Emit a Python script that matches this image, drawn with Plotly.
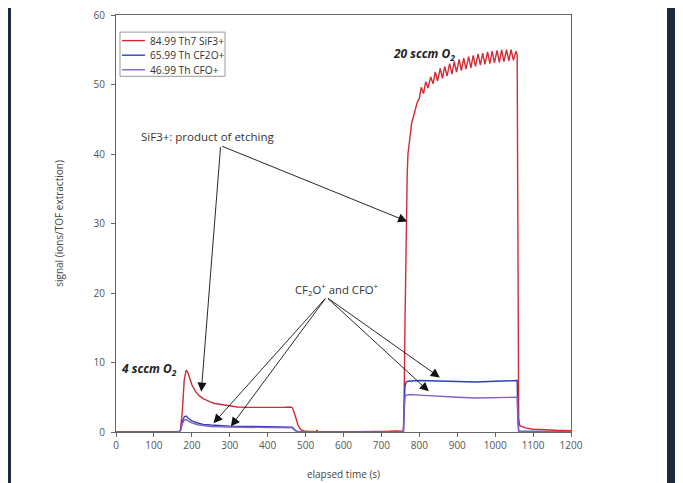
import plotly.graph_objects as go

# ---- data ----
t_sif3 = [0, 100, 165, 170, 175, 180, 185, 190, 195, 200, 210, 220, 230, 240, 250, 260, 280, 300, 320, 350, 400,
          440, 460, 465, 470, 475, 480, 485, 490, 500, 520, 528, 530, 532, 600, 700, 720, 740, 755, 758,
          760, 762, 764, 766, 768, 770, 775, 780, 785, 790, 795, 800,
          805, 811, 817, 823, 830, 836, 842, 848, 855, 861, 867, 873, 880, 886, 892, 898, 905, 911, 917, 923,
          930, 936, 942, 948, 955, 961, 967, 973, 980, 986, 992, 998, 1005, 1011, 1017, 1023, 1030, 1036,
          1042, 1048, 1055, 1058, 1060, 1062, 1065, 1070, 1080, 1100, 1130, 1160, 1200]
v_sif3 = [0, 0, 0, 0.3, 3, 7.5, 8.9, 8.5, 7.5, 6.8, 5.8, 5.2, 4.8, 4.5, 4.3, 4.1, 3.9, 3.7, 3.6, 3.55, 3.5,
          3.55, 3.6, 3.5, 2.8, 1.8, 1.0, 0.5, 0.25, 0.1, 0.05, 0.05, 0.3, 0.05, 0, 0, 0.1, 0.15, 0.1, 0.2,
          5, 15, 25, 32, 37, 40, 42.5, 44.5, 45.5, 46.5, 47.5, 48,
          49.6, 48.7, 50.4, 49.5, 51.1, 50.1, 51.8, 50.5, 52.3, 50.9, 52.6, 51.2, 53.0, 51.5, 53.3, 51.8, 53.6, 52.0, 53.8, 52.2,
          54.0, 52.4, 54.2, 52.6, 54.4, 52.8, 54.5, 52.9, 54.7, 53.0, 54.8, 53.1, 54.9, 53.2, 55.0, 53.3, 55.0, 53.4,
          55.0, 53.5, 54.8, 54.2, 20, 2, 0.9, 0.8, 0.6, 0.4, 0.3, 0.25, 0.2]

t_cf2o = [0, 165, 170, 175, 180, 185, 190, 200, 215, 230, 250, 280, 300, 350, 400, 460, 465, 470, 475, 480, 500,
          758, 760, 762, 765, 770, 800, 850, 900, 950, 1000, 1050, 1058, 1060, 1062, 1200]
v_cf2o = [0, 0, 0.2, 1.5, 2.2, 2.3, 2.0, 1.6, 1.3, 1.1, 1.0, 0.9, 0.85, 0.8, 0.75, 0.75, 0.7, 0.4, 0.15, 0.05, 0,
          0, 3, 6.5, 7.2, 7.3, 7.4, 7.3, 7.2, 7.2, 7.3, 7.4, 7.4, 2, 0.1, 0]

t_cfo = [0, 165, 170, 175, 180, 185, 190, 200, 215, 230, 250, 300, 400, 465, 470, 475, 480,
         758, 760, 762, 765, 775, 800, 850, 900, 950, 1000, 1050, 1058, 1060, 1062, 1200]
v_cfo = [0, 0, 0.2, 1.2, 1.7, 1.8, 1.6, 1.3, 1.05, 0.9, 0.8, 0.7, 0.6, 0.6, 0.3, 0.1, 0,
         0, 2.5, 5, 5.3, 5.4, 5.3, 5.1, 5.0, 4.9, 4.9, 5.0, 5.0, 1.5, 0.1, 0]

series_names = ["84.99 Th7 SiF3+", "65.99 Th CF2O+", "46.99 Th CFO+"]
series_colors = ["#d42a35", "#2f3fbf", "#8460c2"]

x_ticks = [0, 100, 200, 300, 400, 500, 600, 700, 800, 900, 1000, 1100, 1200]
y_ticks = [0, 10, 20, 30, 40, 50, 60]

fig = go.Figure()
for t, v, name, col in zip([t_sif3, t_cf2o, t_cfo], [v_sif3, v_cf2o, v_cfo], series_names, series_colors):
    fig.add_trace(go.Scatter(x=t, y=v, mode="lines", name=name,
                             line=dict(color=col, width=1.4), showlegend=False))

font_family = "Open Sans, Noto Sans, sans-serif"

annotations = [
    dict(x=242, y=42.5, xref="x", yref="y", text="SiF3+: product of etching", showarrow=False,
         font=dict(size=11.5, color="#333333")),
    dict(x=812, y=54.4, xref="x", yref="y", text="<b><i>20 sccm O<sub>2</sub></i></b>", showarrow=False,
         font=dict(size=12, color="#222222")),
    dict(x=86, y=9.1, xref="x", yref="y", text="<b><i>4 sccm O<sub>2</sub></i></b>", showarrow=False,
         font=dict(size=12, color="#222222")),
    dict(x=584, y=20.5, xref="x", yref="y", text="CF<sub>2</sub>O<sup>+</sup> and CFO<sup>+</sup>",
         showarrow=False, font=dict(size=11.3, color="#333333")),
]
arrows = [
    (276, 41.2, 225, 5.8),
    (276, 41.2, 768, 30.3),
    (555, 19.4, 257, 1.25),
    (555, 19.4, 303, 0.8),
    (555, 19.4, 854, 7.85),
    (555, 19.4, 825, 5.85),
]
for ax_, ay_, x_, y_ in arrows:
    annotations.append(dict(x=x_, y=y_, ax=ax_, ay=ay_, xref="x", yref="y", axref="x", ayref="y",
                            text="", showarrow=True, arrowhead=2, arrowsize=2.0, arrowwidth=0.9,
                            arrowcolor="#111111"))

# compact legend box (paper coordinates)
shapes = [dict(type="rect", xref="paper", yref="paper", x0=-0.2308, x1=1.211, y0=-0.2, y1=1.046,
               fillcolor="white", line=dict(width=0), layer="below"),
          dict(type="rect", xref="paper", yref="paper", x0=0.0088, x1=0.2396, y0=0.853, y1=0.959,
               fillcolor="white", line=dict(color="#999999", width=1))]
legend_rows = [0.9386, 0.9036, 0.8687]
for name, col, yy in zip(series_names, series_colors, legend_rows):
    shapes.append(dict(type="line", xref="paper", yref="paper", x0=0.0132, x1=0.0637, y0=yy, y1=yy,
                       line=dict(color=col, width=1.4)))
    annotations.append(dict(x=0.0703, y=yy, xref="paper", yref="paper", text=name, showarrow=False,
                            xanchor="left", yanchor="middle", font=dict(size=10.2, color="#333333")))

fig.update_layout(
    width=683, height=483,
    margin=dict(l=108, r=120, t=7, b=59),
    paper_bgcolor="#1a2a3a",
    plot_bgcolor="white",
    font=dict(family=font_family, size=10, color="#444444"),
    showlegend=False,
    annotations=annotations,
    shapes=shapes,
)
fig.update_xaxes(range=[0, 1200], tickvals=x_ticks, showgrid=False, zeroline=False, automargin=False,
                 showline=True, linecolor="#666666", linewidth=1, mirror=True, ticklabeloverflow="allow",
                 ticks="outside", ticklen=4, tickcolor="#666666", tickfont=dict(size=10, color="#555555"),
                 title=dict(text="elapsed time (s)", font=dict(size=10, color="#444444"), standoff=19))
fig.update_yaxes(range=[0, 60], tickvals=y_ticks, showgrid=False, zeroline=False, automargin=False,
                 showline=True, linecolor="#666666", linewidth=1, mirror=True, ticklabeloverflow="allow",
                 ticks="outside", ticklen=4, tickcolor="#666666", tickfont=dict(size=10, color="#555555"),
                 ticklabelstandoff=4,
                 title=dict(text="signal (ions/TOF extraction)", font=dict(size=10, color="#444444"), standoff=28))

fig.write_html("out.html")
